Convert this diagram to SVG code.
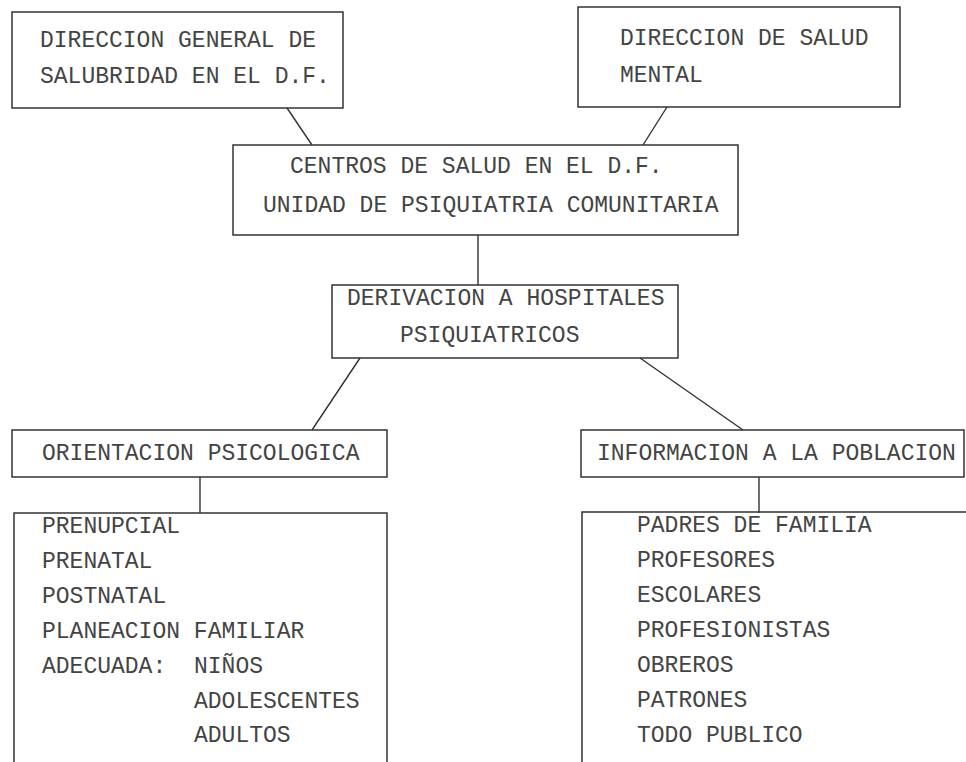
<svg xmlns="http://www.w3.org/2000/svg" width="966" height="762" viewBox="0 0 966 762">
<style>
.box{fill:none;stroke:#333;stroke-width:1.5}
.ln{fill:none;stroke:#333;stroke-width:1.4}
text{font-family:"Liberation Mono","DejaVu Sans Mono",monospace;font-size:23px;fill:#444}
</style>
<rect width="966" height="762" fill="#fff"/>
<g id="connectors">
<line class="ln" x1="287" y1="108" x2="312" y2="145"/>
<line class="ln" x1="667" y1="107" x2="643" y2="145"/>
<line class="ln" x1="478" y1="235" x2="478" y2="285"/>
<line class="ln" x1="360" y1="358" x2="312" y2="430"/>
<line class="ln" x1="640" y1="358" x2="743" y2="430"/>
<line class="ln" x1="200" y1="477" x2="200" y2="513"/>
<line class="ln" x1="759" y1="477" x2="759" y2="513"/>
</g>
<g id="n1">
<rect class="box" x="12" y="12" width="331" height="96"/>
<text x="40" y="47">DIRECCION GENERAL DE</text>
<text x="40" y="83">SALUBRIDAD EN EL D.F.</text>
</g>
<g id="n2">
<rect class="box" x="578" y="7" width="322" height="100"/>
<text x="620" y="45">DIRECCION DE SALUD</text>
<text x="620" y="82">MENTAL</text>
</g>
<g id="n3">
<rect class="box" x="233" y="145" width="505" height="90"/>
<text x="290" y="173">CENTROS DE SALUD EN EL D.F.</text>
<text x="263" y="212">UNIDAD DE PSIQUIATRIA COMUNITARIA</text>
</g>
<g id="n4">
<rect class="box" x="332" y="285" width="346" height="73"/>
<text x="347" y="305">DERIVACION A HOSPITALES</text>
<text x="400" y="342">PSIQUIATRICOS</text>
</g>
<g id="n5">
<rect class="box" x="12" y="430" width="375" height="47"/>
<text x="42" y="460">ORIENTACION PSICOLOGICA</text>
</g>
<g id="n6">
<rect class="box" x="581" y="430" width="383" height="47"/>
<text x="597" y="460">INFORMACION A LA POBLACION</text>
</g>
<g id="n7">
<path class="box" d="M14 762 V513 H387 V762"/>
<text x="42" y="533">PRENUPCIAL</text>
<text x="42" y="568">PRENATAL</text>
<text x="42" y="603">POSTNATAL</text>
<text x="42" y="638">PLANEACION FAMILIAR</text>
<text x="42" y="673">ADECUADA:</text>
<text x="194" y="673">NIÑOS</text>
<text x="194" y="708">ADOLESCENTES</text>
<text x="194" y="742">ADULTOS</text>
</g>
<g id="n8">
<path class="box" d="M582 762 V512 H966"/>
<text x="637" y="532">PADRES DE FAMILIA</text>
<text x="637" y="567">PROFESORES</text>
<text x="637" y="602">ESCOLARES</text>
<text x="637" y="637">PROFESIONISTAS</text>
<text x="637" y="672">OBREROS</text>
<text x="637" y="707">PATRONES</text>
<text x="637" y="742">TODO PUBLICO</text>
</g>
</svg>
